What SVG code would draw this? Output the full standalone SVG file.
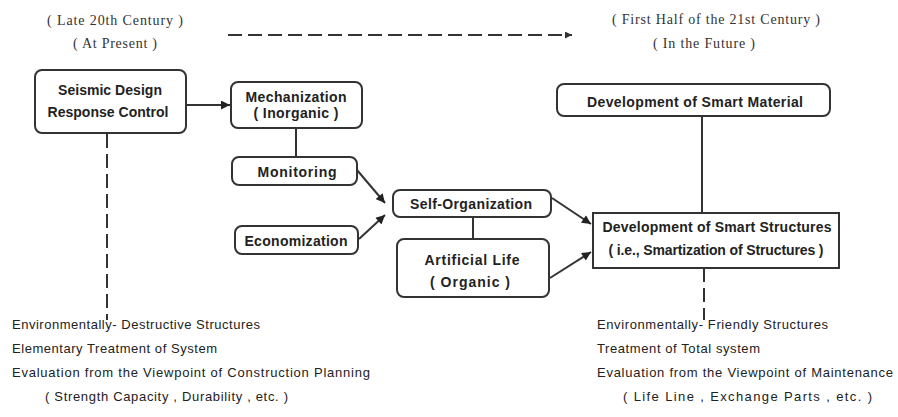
<svg xmlns="http://www.w3.org/2000/svg" width="898" height="417" viewBox="0 0 898 417">
<style>
.box{fill:#fff;stroke:#333;stroke-width:2}
.bt{font-family:"Liberation Sans",Arial,sans-serif;font-size:14px;font-weight:bold;fill:#222;text-anchor:middle}
.hd{font-family:"Liberation Serif","Times New Roman",serif;font-size:14px;fill:#333;text-anchor:middle}
.nt{font-family:"Liberation Sans",Arial,sans-serif;font-size:13px;fill:#222}
.ln{stroke:#333;stroke-width:2;fill:none}
.dash{stroke:#333;stroke-width:2;fill:none;stroke-dasharray:14 6}
</style>
<defs>
<marker id="ah" viewBox="0 0 10 10" refX="10" refY="5" markerWidth="10" markerHeight="9" markerUnits="userSpaceOnUse" orient="auto">
<path d="M0,0 L10,5 L0,10 z" fill="#222"/>
</marker>
<marker id="ah2" viewBox="0 0 10 10" refX="10" refY="5" markerWidth="9" markerHeight="7" markerUnits="userSpaceOnUse" orient="auto">
<path d="M0,0 L10,5 L0,10 z" fill="#333"/>
</marker>
</defs>
<rect width="898" height="417" fill="#fff"/>

<g id="headers">
<text class="hd" x="115" y="25" textLength="136">( Late 20th Century )</text>
<text class="hd" x="115" y="48" textLength="84">( At Present )</text>
<text class="hd" x="716" y="24" textLength="208">( First Half of the 21st Century )</text>
<text class="hd" x="704" y="48" textLength="102">( In the Future )</text>
</g>

<g id="connectors">
<line class="dash" x1="228" y1="35" x2="572" y2="35" stroke-dasharray="20 6" marker-end="url(#ah2)"/>
<line class="ln" x1="187" y1="105" x2="230" y2="105" stroke-width="3" marker-end="url(#ah)"/>
<line class="ln" x1="296" y1="128" x2="296" y2="157"/>
<line class="ln" x1="357" y1="170" x2="385" y2="203" marker-end="url(#ah)"/>
<line class="ln" x1="359" y1="239" x2="385" y2="215" marker-end="url(#ah)"/>
<line class="ln" x1="473" y1="217" x2="473" y2="239"/>
<line class="ln" x1="552" y1="198" x2="591" y2="224" marker-end="url(#ah)"/>
<line class="ln" x1="550" y1="278" x2="591" y2="252" marker-end="url(#ah)"/>
<line class="ln" x1="702" y1="116" x2="702" y2="213"/>
<line class="dash" x1="107" y1="134" x2="107" y2="320"/>
<line class="dash" x1="704" y1="268" x2="704" y2="320"/>
</g>

<g id="seismic">
<rect class="box" x="35" y="70" width="151" height="63" rx="7"/>
<text class="bt" x="110" y="95" textLength="104">Seismic Design</text>
<text class="bt" x="108" y="117" textLength="121">Response Control</text>
</g>

<g id="mechanization">
<rect class="box" x="231" y="82" width="131" height="46" rx="7"/>
<text class="bt" x="296" y="102" textLength="101">Mechanization</text>
<text class="bt" x="296" y="118" textLength="85">( Inorganic )</text>
</g>

<g id="monitoring">
<rect class="box" x="232" y="157" width="125" height="28" rx="7"/>
<text class="bt" x="297" y="177" textLength="79">Monitoring</text>
</g>

<g id="economization">
<rect class="box" x="235" y="226" width="123" height="28" rx="7"/>
<text class="bt" x="296" y="246" textLength="103">Economization</text>
</g>

<g id="self-organization">
<rect class="box" x="393" y="190" width="158" height="27" rx="7"/>
<text class="bt" x="471" y="209" textLength="122">Self-Organization</text>
</g>

<g id="artificial-life">
<rect class="box" x="397" y="239" width="152" height="58" rx="7"/>
<text class="bt" x="472" y="265" textLength="95">Artificial Life</text>
<text class="bt" x="470" y="287" textLength="80">( Organic )</text>
</g>

<g id="smart-material">
<rect class="box" x="557" y="84" width="273" height="32" rx="7"/>
<text class="bt" x="695" y="107" textLength="216">Development of Smart Material</text>
</g>

<g id="smart-structures">
<rect class="box" x="593" y="213" width="246" height="55"/>
<text class="bt" x="717" y="232" textLength="229">Development of Smart Structures</text>
<text class="bt" x="716" y="255" textLength="215">( i.e., Smartization of Structures )</text>
</g>

<g id="left-notes">
<text class="nt" x="12" y="329" textLength="248">Environmentally- Destructive Structures</text>
<text class="nt" x="12" y="353" textLength="205">Elementary Treatment of System</text>
<text class="nt" x="12" y="377" textLength="358">Evaluation from the Viewpoint of Construction Planning</text>
<text class="nt" x="45" y="401" textLength="243">( Strength Capacity , Durability , etc. )</text>
</g>

<g id="right-notes">
<text class="nt" x="597" y="329" textLength="231">Environmentally- Friendly Structures</text>
<text class="nt" x="597" y="353" textLength="163">Treatment of Total system</text>
<text class="nt" x="597" y="377" textLength="296">Evaluation from the  Viewpoint of Maintenance</text>
<text class="nt" x="623" y="401" textLength="249">( Life Line , Exchange Parts , etc. )</text>
</g>
</svg>
